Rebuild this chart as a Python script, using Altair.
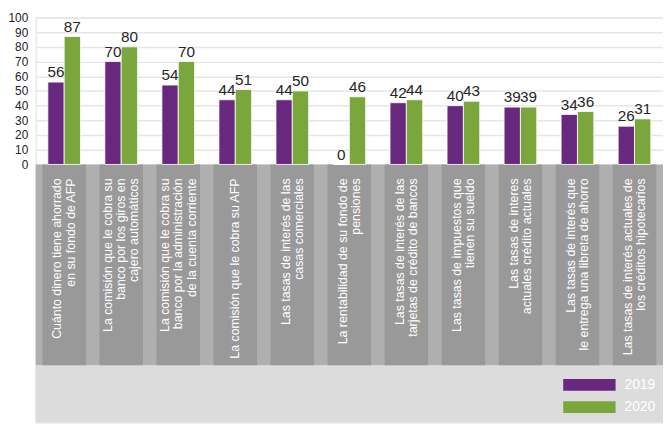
import altair as alt
import pandas as pd

categories = [
    ["Cuánto dinero tiene ahorrado", "en su fondo de AFP"],
    ["La comisión que le cobra su", "banco por los giros en", "cajero automáticos"],
    ["La comisión que le cobra su", "banco por la administración", "de la cuenta corriente"],
    ["La comisión que le cobra su AFP"],
    ["Las tasas de interés de las", "casas comerciales"],
    ["La rentabilidad de su fondo de", "pensiones"],
    ["Las tasas de interés de las", "tarjetas de crédito de bancos"],
    ["Las tasas de impuestos que", "tienen su sueldo"],
    ["Las tasas de interes", "actuales crédito actuales"],
    ["Las tasas de interés que", "le entrega una libreta de ahorro"],
    ["Las tasas de interés actuales de", "los créditos hipotecarios"],
]
years = ["2019", "2020"]
values_2019 = [56, 70, 54, 44, 44, 0, 42, 40, 39, 34, 26]
values_2020 = [87, 80, 70, 51, 50, 46, 44, 43, 39, 36, 31]
y_ticks = [0, 10, 20, 30, 40, 50, 60, 70, 80, 90, 100]

PURPLE = "#68287e"
GREEN = "#7ba63b"
FONT = "Liberation Sans"

keys = [" ".join(c) for c in categories]

rows = []
for k, a, b in zip(keys, values_2019, values_2020):
    rows.append({"cat": k, "year": "2019", "value": a})
    rows.append({"cat": k, "year": "2020", "value": b})
df = pd.DataFrame(rows)
cats_df = pd.DataFrame({"cat": keys, "lines": categories,
                        "n": [len(c) for c in categories]})
one = pd.DataFrame({"a": [0]})

W, H = 635, 410
Y_MIN, Y_MAX = -175.5, 100
BOX_BOTTOM = -136.6
LABEL_Y = -9.5
LH = 13.5

x_enc = alt.X("cat:N", sort=keys, axis=None,
              scale=alt.Scale(domain=keys, paddingInner=0, paddingOuter=0))
y_scale = alt.Scale(domain=[Y_MIN, Y_MAX], nice=False, zero=False)
y_axis = alt.Axis(values=y_ticks, domain=False, ticks=False, labelPadding=8,
                  labelFontSize=12, labelColor="#222222", labelFont=FONT,
                  grid=True, gridColor="#e6e6e6", gridWidth=1.5)
xoff = alt.XOffset("year:N", scale=alt.Scale(domain=years, paddingInner=0, paddingOuter=0.745))

# legend symbol: 53x12 rectangle with symbolSize 144 (r = 6)
legend_path = "M-4.4167,-1L4.4167,-1L4.4167,1L-4.4167,1Z"

bottom_area = alt.Chart(one).mark_rect(color="#dcdcdc").encode(
    x=alt.value(0), x2=alt.value(W),
    y=alt.Y(datum=BOX_BOTTOM, type="quantitative", scale=y_scale, axis=y_axis, title=None),
    y2=alt.datum(Y_MIN),
)
strip = alt.Chart(one).mark_rect(color="#afafaf").encode(
    x=alt.value(0), x2=alt.value(W),
    y=alt.datum(0), y2=alt.datum(BOX_BOTTOM),
)
boxes = alt.Chart(cats_df).mark_bar(color="#999999", size=44).encode(
    x=x_enc,
    y=alt.datum(0), y2=alt.datum(BOX_BOTTOM),
)

text_layers = []
for n in sorted(set(cats_df["n"])):
    text_layers.append(
        alt.Chart(cats_df).transform_filter(alt.datum.n == n).mark_text(
            angle=270, align="right", baseline="middle", color="white",
            font=FONT, fontSize=12.5, lineHeight=LH, dy=-(n - 1) / 2 * LH,
        ).encode(
            x=x_enc,
            y=alt.datum(LABEL_Y),
            text="lines",
        )
    )

bars = alt.Chart(df).mark_bar(stroke="white", strokeWidth=0.8).encode(
    x=x_enc,
    xOffset=xoff,
    y=alt.Y("value:Q", scale=y_scale, title=None),
    y2=alt.datum(0),
    color=alt.Color("year:N", scale=alt.Scale(domain=years, range=[PURPLE, GREEN]),
                    legend=alt.Legend(title=None, orient="none", legendX=553.5, legendY=365,
                                      symbolType=legend_path, symbolSize=144,
                                      symbolStrokeWidth=0, labelColor="white",
                                      labelFont=FONT, labelFontSize=14, labelOffset=28.5,
                                      rowPadding=8.5, padding=0)),
)
value_text = alt.Chart(df).mark_text(
    baseline="alphabetic", dy=-5, fontSize=15.5, font=FONT, color="#262626",
).encode(
    x=x_enc,
    xOffset=xoff,
    y=alt.Y("value:Q", scale=y_scale),
    text="value:Q",
)

chart = alt.layer(bottom_area, strip, boxes, *text_layers, bars, value_text).properties(
    width=W, height=H,
    padding={"left": 28, "top": 7, "right": 0, "bottom": 0},
    autosize=alt.AutoSizeParams(type="none"),
).configure_view(stroke=None).configure(background="white")

chart.save("out.html", embed_options={"renderer": "svg", "actions": False})
